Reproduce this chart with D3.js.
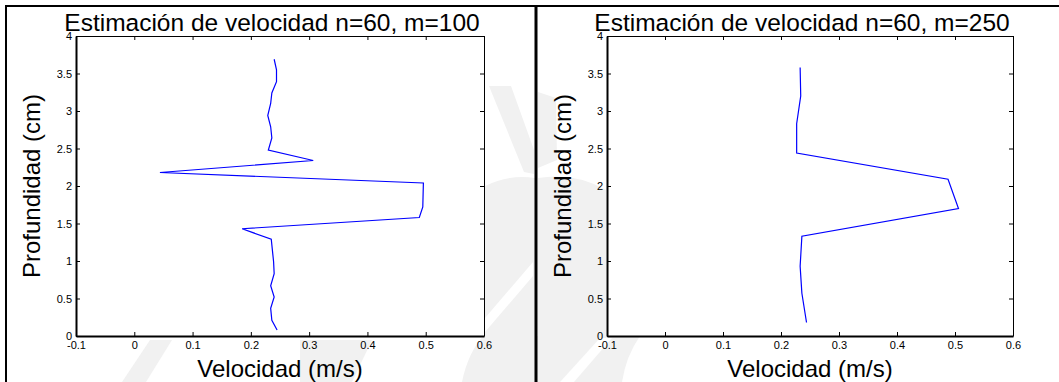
<!DOCTYPE html>
<html>
<head>
<meta charset="utf-8">
<script src="https://cdn.jsdelivr.net/npm/d3@7"></script>
<style>
  body { margin: 0; background: #fff; }
  svg { display: block; }
  text { font-family: "Liberation Sans", Arial, Helvetica, sans-serif; fill: #000; }
</style>
</head>
<body>
<svg id="chart" width="1059" height="382"></svg>
<script>
// Axis ticks
const xTicks = [-0.1, 0, 0.1, 0.2, 0.3, 0.4, 0.5, 0.6];
const yTicks = [0, 0.5, 1, 1.5, 2, 2.5, 3, 3.5, 4];

// Velocity profile, n=60, m=100
const depthM100 = [3.69, 3.55, 3.39, 3.24, 3.10, 2.94, 2.79, 2.64, 2.48, 2.34, 2.18, 2.04, 1.72, 1.58, 1.43, 1.29, 0.99, 0.83, 0.67, 0.52, 0.37, 0.21, 0.08];
const velM100   = [0.240, 0.244, 0.244, 0.236, 0.234, 0.229, 0.234, 0.236, 0.230, 0.307, 0.044, 0.496, 0.495, 0.489, 0.185, 0.235, 0.239, 0.240, 0.234, 0.240, 0.234, 0.236, 0.245];

// Velocity profile, n=60, m=250
const depthM250 = [3.58, 3.20, 2.83, 2.44, 2.09, 1.70, 1.33, 0.93, 0.57, 0.18];
const velM250   = [0.233, 0.234, 0.227, 0.227, 0.488, 0.506, 0.236, 0.233, 0.236, 0.244];

const titles = ["Estimación de velocidad n=60, m=100", "Estimación de velocidad n=60, m=250"];
const xLabel = "Velocidad (m/s)";
const yLabel = "Profundidad (cm)";

const svg = d3.select("#chart");

// Faint background emblem showing through the page margins
const emblem = svg.append("g").attr("fill", "#f1f1f1");
[
  "M489,86 L511,86 L534,150 L534,174 L524,172 Z",
  "M485,186 Q510,174 535,178 L535,382 L462,382 Q468,352 485,334 Z",
  "M538,92 L556,98 L557,160 L538,168 Z",
  "M538,178 Q575,172 606,190 L606,382 L538,382 Z",
  "M537,336 L640,336 Q626,356 622,382 L537,382 Z",
  "M122,382 L150,340 L172,340 L146,382 Z",
  "M300,340 L372,340 L352,382 L300,382 Z"
].forEach(d => emblem.append("path").attr("d", d));
// light cut-outs crossing the emblem
const cuts = svg.append("g").attr("fill", "#fff");
[
  "M485,318 L533,262 L533,276 L485,332 Z",
  "M560,382 L600,338 L612,338 L574,382 Z"
].forEach(d => cuts.append("path").attr("d", d));

// Outer frame and the divider between the two figures
svg.append("line").attr("x1", 5).attr("x2", 1059).attr("y1", 6).attr("y2", 6)
  .attr("stroke", "#000").attr("stroke-width", 2);
svg.append("line").attr("x1", 6).attr("x2", 6).attr("y1", 5).attr("y2", 382)
  .attr("stroke", "#000").attr("stroke-width", 2);
svg.append("line").attr("x1", 536).attr("x2", 536).attr("y1", 5).attr("y2", 382)
  .attr("stroke", "#000").attr("stroke-width", 3);

const panels = [
  { left: 76, right: 484, top: 36, bottom: 336, vel: velM100, depth: depthM100, title: titles[0], ylabX: 40 },
  { left: 607, right: 1013, top: 36, bottom: 336, vel: velM250, depth: depthM250, title: titles[1], ylabX: 571 }
];

const fmt = d => String(d);

panels.forEach(p => {
  const x = d3.scaleLinear().domain([-0.1, 0.6]).range([p.left, p.right]);
  const y = d3.scaleLinear().domain([0, 4]).range([p.bottom, p.top]);
  const g = svg.append("g");

  g.append("rect").attr("x", p.left).attr("y", p.top)
    .attr("width", p.right - p.left).attr("height", p.bottom - p.top).attr("fill", "#fff");

  const pts = p.vel.map((v, i) => [v, p.depth[i]]);
  g.append("path").datum(pts)
    .attr("fill", "none").attr("stroke", "#0000ff").attr("stroke-width", 1.2)
    .attr("d", d3.line().x(d => x(d[0])).y(d => y(d[1])));

  // Top and right box edges with inward ticks, no labels
  const gt = g.append("g").attr("transform", `translate(0,${p.top})`)
    .call(d3.axisTop(x).tickValues(xTicks).tickSize(-4).tickSizeOuter(0).tickFormat(""));
  const gr = g.append("g").attr("transform", `translate(${p.right},0)`)
    .call(d3.axisRight(y).tickValues(yTicks).tickSize(-4).tickSizeOuter(0).tickFormat(""));
  [gt, gr].forEach(a => {
    a.select(".domain").attr("stroke", "#000").attr("stroke-width", 1);
    a.selectAll(".tick line").attr("stroke", "#000").attr("stroke-width", 1);
  });

  // Bottom and left axes
  const gb = g.append("g").attr("transform", `translate(0,${p.bottom})`)
    .call(d3.axisBottom(x).tickValues(xTicks).tickSize(-4).tickSizeOuter(0).tickPadding(5).tickFormat(fmt));
  const gl = g.append("g").attr("transform", `translate(${p.left},0)`)
    .call(d3.axisLeft(y).tickValues(yTicks).tickSize(-4).tickSizeOuter(0).tickPadding(4).tickFormat(fmt));
  [gb, gl].forEach(a => {
    a.select(".domain").attr("stroke", "#000").attr("stroke-width", 2);
    a.selectAll(".tick line").attr("stroke", "#000").attr("stroke-width", 1);
    a.selectAll(".tick text").attr("font-size", 11).attr("fill", "#000")
      .style("font-family", '"Liberation Sans", Arial, sans-serif');
  });

  const cx = (p.left + p.right) / 2;
  g.append("text").attr("x", cx - 8).attr("y", 31).attr("text-anchor", "middle")
    .attr("font-size", 24.5).text(p.title);
  g.append("text").attr("x", cx).attr("y", 377).attr("text-anchor", "middle")
    .attr("font-size", 24).text(xLabel);
  g.append("text").attr("transform", `translate(${p.ylabX},${(p.top + p.bottom) / 2}) rotate(-90)`)
    .attr("text-anchor", "middle").attr("font-size", 24).text(yLabel);
});
</script>
</body>
</html>
